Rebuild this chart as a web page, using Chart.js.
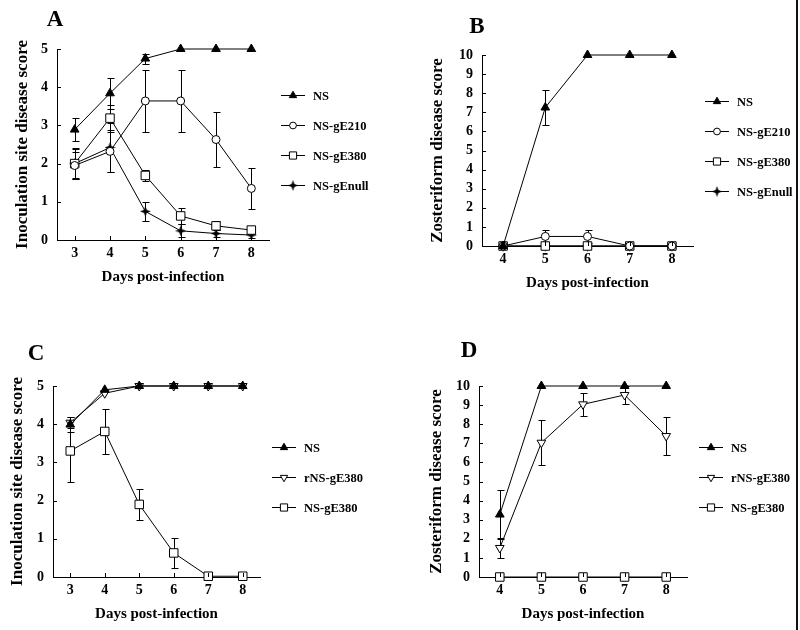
<!DOCTYPE html>
<html>
<head>
<meta charset="utf-8">
<script src="https://cdn.jsdelivr.net/npm/chart.js@4.4.1/dist/chart.umd.min.js"></script>
<style>
    body { margin: 0; background: #fff; width: 800px; height: 630px; position: relative; overflow: hidden;
           font-family: "Liberation Serif", "Times New Roman", serif; }
    canvas { position: absolute; }
    .tag { position: absolute; font-weight: bold; font-size: 23px; line-height: 1; transform: translate(-50%, -50%); }
    #edge { position: absolute; left: 796px; top: 0; width: 2px; height: 630px; background: #111; }
</style>
</head>
<body>
<canvas id="cA" width="400" height="300" style="left:0;top:0"></canvas>
<canvas id="cB" width="400" height="300" style="left:400px;top:0"></canvas>
<canvas id="cC" width="400" height="330" style="left:0;top:300px"></canvas>
<canvas id="cD" width="400" height="330" style="left:400px;top:300px"></canvas>
<div class="tag" style="left:55px;top:18px">A</div>
<div class="tag" style="left:477px;top:25px">B</div>
<div class="tag" style="left:36px;top:352px">C</div>
<div class="tag" style="left:469px;top:349px">D</div>
<div id="edge"></div>
<script>
// days on the x axis
const daysAC = [3, 4, 5, 6, 7, 8];
const daysBD = [4, 5, 6, 7, 8];
const ticksSite = [0, 1, 2, 3, 4, 5];
const ticksZoster = [0, 1, 2, 3, 4, 5, 6, 7, 8, 9, 10];

// panel A - inoculation site score
const aNS = [2.89, 3.84, 4.75, 5, 5, 5];
const aNSErr = [0.3, 0.4, 0.13, 0, 0, 0];
const aE210 = [1.95, 2.32, 3.64, 3.64, 2.63, 1.35];
const aE210Err = [0.35, 0.55, 0.8, 0.8, 0.73, 0.53];
const aE380 = [2.0, 3.19, 1.69, 0.63, 0.37, 0.26];
const aE380Err = [0.4, 0.35, 0.15, 0.2, 0.12, 0.1];
const aEnull = [2.0, 2.42, 0.75, 0.24, 0.17, 0.13];
const aEnullErr = [0.38, 0.65, 0.24, 0.17, 0.1, 0.08];

// panel B - zosteriform score
const bNS = [0, 7.25, 10, 10, 10];
const bNSErr = [0, 0.93, 0, 0, 0];
const bE210 = [0, 0.5, 0.5, 0, 0];
const bE210Err = [0, 0.33, 0.33, 0, 0];
const bE380 = [0, 0, 0, 0, 0];
const bEnull = [0, 0, 0, 0, 0];

// panel C - inoculation site score
const cNS = [3.99, 4.9, 5, 5, 5, 5];
const cNSErr = [0.2, 0, 0, 0, 0, 0];
const cRE380 = [4.04, 4.81, 5, 5, 5, 5];
const cRE380Err = [0.15, 0, 0, 0, 0, 0];
const cE380 = [3.3, 3.81, 1.9, 0.63, 0.02, 0.02];
const cE380Err = [0.8, 0.6, 0.4, 0.4, 0, 0];

// panel D - zosteriform score
const dNS = [3.27, 10, 10, 10, 10];
const dNSErr = [1.3, 0, 0, 0, 0];
const dRE380 = [1.52, 7.03, 9.04, 9.53, 7.38];
const dRE380Err = [0.5, 1.18, 0.6, 0.45, 1.0];
const dE380 = [0, 0, 0, 0, 0];

const SERIF = '"Liberation Serif", "Times New Roman", serif';
Chart.defaults.font.family = SERIF;
Chart.defaults.font.weight = 'bold';
Chart.defaults.color = '#000';

function starMarker() {
    const c = document.createElement('canvas');
    c.width = 11; c.height = 11;
    const g = c.getContext('2d');
    const pts = [[5.5, 0], [6.9, 4.1], [11, 5.5], [6.9, 6.9], [5.5, 11], [4.1, 6.9], [0, 5.5], [4.1, 4.1]];
    g.fillStyle = '#000';
    g.beginPath();
    pts.forEach((p, i) => i ? g.lineTo(p[0], p[1]) : g.moveTo(p[0], p[1]));
    g.closePath();
    g.fill();
    return c;
}

const MARK = {
    ns:    { style: 'triangle', r: 5, fill: '#000', rot: 0 },
    e210:  { style: 'circle', r: 4, fill: '#fff', rot: 0 },
    e380:  { style: 'rect', r: 6, fill: '#fff', rot: 0 },
    enull: { style: starMarker(), r: 5, fill: '#000', rot: 0 },
    re380: { style: 'triangle', r: 5, fill: '#fff', rot: 180 }
};

function series(label, days, values, errors, m) {
    return {
        label: label,
        data: days.map((d, i) => ({ x: d, y: values[i] })),
        errors: errors || [],
        borderColor: '#000',
        borderWidth: 1,
        tension: 0,
        clip: false,
        pointStyle: m.style,
        pointRadius: m.r,
        pointRotation: m.rot,
        pointBackgroundColor: m.fill,
        pointBorderColor: '#000',
        pointBorderWidth: 1
    };
}

const errorBars = {
    id: 'errorBars',
    beforeDatasetsDraw(chart) {
        const { ctx, scales: { x, y } } = chart;
        ctx.save();
        ctx.strokeStyle = '#000';
        ctx.lineWidth = 1;
        chart.data.datasets.forEach(ds => {
            ds.errors.forEach((e, i) => {
                if (!e) return;
                const p = ds.data[i];
                const px = Math.round(x.getPixelForValue(p.x)) + 0.5;
                const lo = Math.round(y.getPixelForValue(p.y - e)) + 0.5;
                const hi = Math.round(y.getPixelForValue(p.y + e)) + 0.5;
                ctx.beginPath();
                ctx.moveTo(px, lo); ctx.lineTo(px, hi);
                ctx.moveTo(px - 3, lo); ctx.lineTo(px + 4, lo);
                ctx.moveTo(px - 3, hi); ctx.lineTo(px + 4, hi);
                ctx.stroke();
            });
        });
        ctx.restore();
    }
};

const innerTicks = {
    id: 'innerTicks',
    afterDraw(chart) {
        const { ctx, scales: { x, y }, chartArea: a } = chart;
        ctx.save();
        ctx.strokeStyle = '#000';
        ctx.lineWidth = 1;
        ctx.beginPath();
        x.ticks.forEach(t => {
            const px = Math.round(x.getPixelForValue(t.value)) + 0.5;
            ctx.moveTo(px, a.bottom); ctx.lineTo(px, a.bottom - 4);
        });
        y.ticks.forEach(t => {
            const py = Math.round(y.getPixelForValue(t.value)) + 0.5;
            ctx.moveTo(a.left, py); ctx.lineTo(a.left + 4, py);
        });
        ctx.stroke();
        ctx.restore();
    }
};

const sideLegend = {
    id: 'sideLegend',
    afterDraw(chart) {
        const { ctx, chartArea: a } = chart;
        const sets = chart.data.datasets;
        const gap = 30;
        const y0 = (a.top + a.bottom) / 2 - 5 - gap * (sets.length - 1) / 2;
        const x0 = a.right + 12;
        ctx.save();
        ctx.font = 'bold 12.5px ' + SERIF;
        ctx.textBaseline = 'middle';
        sets.forEach((ds, i) => {
            const yy = Math.round(y0 + i * gap) + 0.5;
            ctx.strokeStyle = '#000';
            ctx.lineWidth = 1;
            ctx.beginPath();
            ctx.moveTo(x0, yy); ctx.lineTo(x0 + 24, yy);
            ctx.stroke();
            ctx.fillStyle = ds.pointBackgroundColor;
            Chart.helpers.drawPoint(ctx, {
                pointStyle: ds.pointStyle, radius: ds.pointRadius * 0.85,
                rotation: ds.pointRotation, borderWidth: 1
            }, x0 + 12, yy);
            ctx.fillStyle = '#000';
            ctx.fillText(ds.label, x0 + 32, yy + 1);
        });
        ctx.restore();
    }
};

function panel(id, days, ticks, yTitle, sets, box) {
    new Chart(document.getElementById(id), {
        type: 'line',
        data: { datasets: sets },
        options: {
            responsive: false,
            animation: false,
            events: [],
            layout: { padding: { left: 0, top: box.top, right: box.right, bottom: box.bottom } },
            plugins: { legend: { display: false }, tooltip: { enabled: false } },
            scales: {
                x: {
                    type: 'linear',
                    min: days[0] - 0.5,
                    max: days[days.length - 1] + 0.5,
                    afterBuildTicks: s => { s.ticks = days.map(v => ({ value: v })); },
                    afterFit: s => { s.height = 48; },
                    grid: { display: false, drawTicks: false },
                    border: { display: true, color: '#000', width: 1 },
                    ticks: { padding: 5, autoSkip: false, maxRotation: 0,
                             font: { size: 14, weight: 'bold' }, color: '#000' },
                    title: { display: true, text: 'Days post-infection', color: '#000',
                             font: { size: 15, weight: 'bold' }, padding: { top: 0, bottom: 2 } }
                },
                y: {
                    type: 'linear',
                    min: 0,
                    max: ticks[ticks.length - 1],
                    afterBuildTicks: s => { s.ticks = ticks.map(v => ({ value: v })); },
                    afterFit: s => { s.width = box.left; },
                    grid: { display: false, drawTicks: false },
                    border: { display: true, color: '#000', width: 1 },
                    ticks: { padding: 9, autoSkip: false,
                             font: { size: 14, weight: 'bold', lineHeight: 1 }, color: '#000' },
                    title: { display: true, text: yTitle, color: '#000',
                             font: { size: 17, weight: 'bold' }, padding: { top: box.titlePad, bottom: 0 } }
                }
            }
        },
        plugins: [errorBars, innerTicks, sideLegend]
    });
}

panel('cA', daysAC, ticksSite, 'Inoculation site disease score', [
    series('NS', daysAC, aNS, aNSErr, MARK.ns),
    series('NS-gE210', daysAC, aE210, aE210Err, MARK.e210),
    series('NS-gE380', daysAC, aE380, aE380Err, MARK.e380),
    series('NS-gEnull', daysAC, aEnull, aEnullErr, MARK.enull)
], { left: 57, right: 131, top: 49, bottom: 12, titlePad: 12 });

panel('cB', daysBD, ticksZoster, 'Zosteriform disease score', [
    series('NS', daysBD, bNS, bNSErr, MARK.ns),
    series('NS-gE210', daysBD, bE210, bE210Err, MARK.e210),
    series('NS-gE380', daysBD, bE380, null, MARK.e380),
    series('NS-gEnull', daysBD, bEnull, null, MARK.enull)
], { left: 82, right: 107, top: 55, bottom: 6, titlePad: 27 });

panel('cC', daysAC, ticksSite, 'Inoculation site disease score', [
    series('NS', daysAC, cNS, cNSErr, MARK.ns),
    series('rNS-gE380', daysAC, cRE380, cRE380Err, MARK.re380),
    series('NS-gE380', daysAC, cE380, cE380Err, MARK.e380)
], { left: 53, right: 140, top: 86, bottom: 5, titlePad: 7 });

panel('cD', daysBD, ticksZoster, 'Zosteriform disease score', [
    series('NS', daysBD, dNS, dNSErr, MARK.ns),
    series('rNS-gE380', daysBD, dRE380, dRE380Err, MARK.re380),
    series('NS-gE380', daysBD, dE380, null, MARK.e380)
], { left: 79, right: 113, top: 86, bottom: 5, titlePad: 26 });
</script>
</body>
</html>
